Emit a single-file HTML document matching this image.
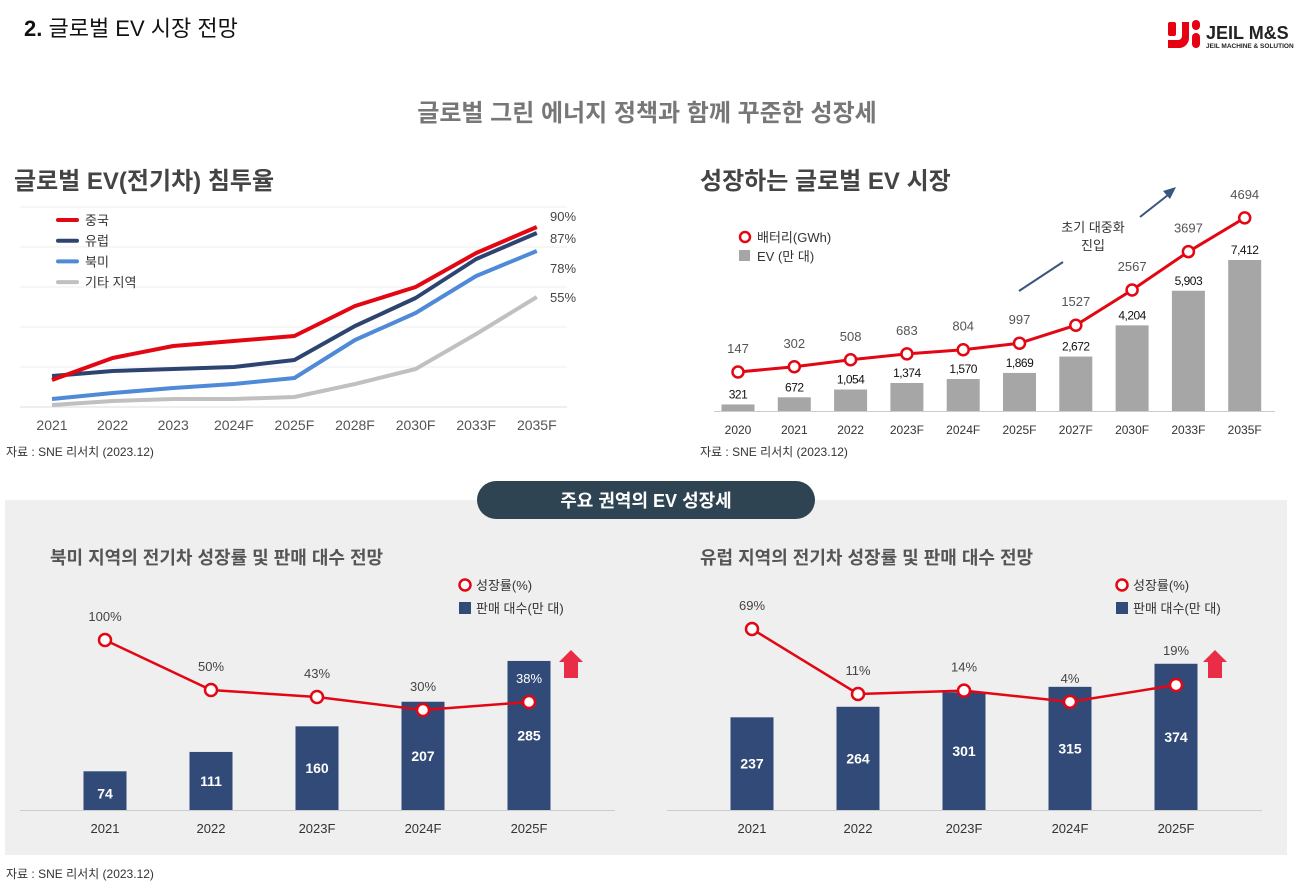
<!DOCTYPE html>
<html><head><meta charset="utf-8"><style>
html,body{margin:0;padding:0;background:#fff;}
svg{display:block;font-family:"Liberation Sans","Noto Sans CJK KR",sans-serif;}
</style></head><body>
<svg id="s" width="1313" height="882" viewBox="0 0 1313 882">
<text x="24" y="36" font-size="22" fill="#111"><tspan font-weight="bold">2.</tspan> 글로벌 EV 시장 전망</text>
<g>
<rect x="1168" y="22" width="8" height="14" rx="2" fill="#e60012"/><path d="M1168 40 h10 a4 4 0 0 0 4-4 v-14 h7 v16 a10 10 0 0 1-10 10 h-11z" fill="#e60012"/>
<rect x="1192" y="20" width="8" height="10" rx="4" fill="#e60012"/><rect x="1192" y="33" width="8" height="15" rx="4" fill="#e60012"/>
<text x="1206" y="39" font-size="18" font-weight="bold" fill="#222">JEIL M&amp;S</text>
<text x="1206" y="48" font-size="6.5" font-weight="bold" fill="#222">JEIL MACHINE &amp; SOLUTION</text>
</g>
<text x="647" y="121" font-size="24" font-weight="bold" fill="#777" text-anchor="middle">글로벌 그린 에너지 정책과 함께 꾸준한 성장세</text>
<text x="14" y="189" font-size="24" font-weight="bold" fill="#444">글로벌 EV(전기차) 침투율</text>
<text x="700" y="189" font-size="24" font-weight="bold" fill="#444">성장하는 글로벌 EV 시장</text>
<g id="c1"></g><g id="c2"></g>
<text x="6" y="456" font-size="12" fill="#333">자료 : SNE 리서치 (2023.12)</text>
<text x="700" y="456" font-size="12" fill="#333">자료 : SNE 리서치 (2023.12)</text>
<rect x="5" y="500" width="1282" height="355" fill="#efefef"/>
<rect x="477" y="481" width="338" height="38" rx="19" fill="#2e4453"/>
<text x="646" y="507" font-size="18" font-weight="bold" fill="#fff" text-anchor="middle">주요 권역의 EV 성장세</text>
<text x="50" y="564" font-size="18" font-weight="bold" fill="#555">북미 지역의 전기차 성장률 및 판매 대수 전망</text>
<text x="700" y="564" font-size="18" font-weight="bold" fill="#555">유럽 지역의 전기차 성장률 및 판매 대수 전망</text>
<g id="c3"></g><g id="c4"></g>
<text x="6" y="878" font-size="12" fill="#333">자료 : SNE 리서치 (2023.12)</text>
</svg>
<script>
const penCats=["2021","2022","2023","2024F","2025F","2028F","2030F","2033F","2035F"];
const penChina=[13.5,24.5,30.5,33,35.5,50.5,60,77,90];
const penEurope=[15.5,18,19,20,23.5,40.5,54.5,74,87];
const penNA=[4,7,9.5,11.5,14.5,33.5,47,65.5,78];
const penOther=[1,3,4,4,5,11.5,19,36.5,55];
const penEndLabels=["90%","87%","78%","55%"];
const mktCats=["2020","2021","2022","2023F","2024F","2025F","2027F","2030F","2033F","2035F"];
const mktBattery=[147,302,508,683,804,997,1527,2567,3697,4694];
const mktEV=[321,672,1054,1374,1570,1869,2672,4204,5903,7412];
const regCats=["2021","2022","2023F","2024F","2025F"];
const naSales=[74,111,160,207,285];
const naGrowth=[100,50,43,30,38];
const euSales=[237,264,301,315,374];
const euGrowth=[69,11,14,4,19];

const NS="http://www.w3.org/2000/svg";
function mk(p,t,a,txt){const e=document.createElementNS(NS,t);for(const k in a)e.setAttribute(k,a[k]);if(txt!==undefined)e.textContent=txt;p.appendChild(e);return e;}
function fmt(v){return v.toLocaleString("en-US");}

(function(){
const g=document.getElementById("c1");
const x=i=>52+i*60.6, y=v=>407-v*2;
[0,20,40,60,80,100].forEach(t=>{const l=mk(g,"line",{x1:20,x2:567,y1:y(t),y2:y(t),stroke:t?"#eeeeee":"#dddddd","stroke-width":1});

});
penCats.forEach((c,i)=>{const t=mk(g,"text",{x:x(i),y:430,"font-size":14,fill:"#555","text-anchor":"middle"},c);

});
const series=[[penOther,"#c0c0c0","기타 지역"],[penNA,"#4f8ad8","북미"],[penEurope,"#2e4470","유럽"],[penChina,"#e30613","중국"]];
series.forEach((s,si)=>{
const p=mk(g,"polyline",{points:s[0].map((v,i)=>x(i)+","+y(v)).join(" "),fill:"none",stroke:s[1],"stroke-width":4,"stroke-linejoin":"round"});


});
const legOrder=[series[3],series[2],series[1],series[0]];
legOrder.forEach((s,i)=>{const yy=220+i*20.7;
const l=mk(g,"line",{x1:58,x2:77,y1:yy,y2:yy,stroke:s[1],"stroke-width":4,"stroke-linecap":"round"});


const t=mk(g,"text",{x:85,y:yy+5,"font-size":13,fill:"#333"},s[2]);


const ey=[216,238,268,297][i];
const e=mk(g,"text",{x:550,y:ey+5,"font-size":13,fill:"#444"},penEndLabels[i]);


});
})();

(function(){
const g=document.getElementById("c2");
const x=i=>738+i*56.3, yb=v=>411-v*0.02037, yl=v=>377-v*0.0339;
mk(g,"line",{x1:714,x2:1275,y1:411.5,y2:411.5,stroke:"#ccc"});
mktCats.forEach((c,i)=>{
const b=mk(g,"rect",{x:x(i)-16.5,y:yb(mktEV[i]),width:33,height:411-yb(mktEV[i]),fill:"#a6a6a6"});


const bl=mk(g,"text",{x:x(i),y:yb(mktEV[i])-6,"font-size":12,fill:"#111","text-anchor":"middle","letter-spacing":"-0.5"},fmt(mktEV[i]));


const t=mk(g,"text",{x:x(i),y:434,"font-size":12,fill:"#333","text-anchor":"middle"},c);


});
const p=mk(g,"polyline",{points:mktBattery.map((v,i)=>x(i)+","+yl(v)).join(" "),fill:"none",stroke:"#e30613","stroke-width":3});


mktBattery.forEach((v,i)=>{
const c=mk(g,"circle",{cx:x(i),cy:yl(v),r:5.5,fill:"#fff",stroke:"#e30613","stroke-width":2.5});


const t=mk(g,"text",{x:x(i),y:yl(v)-19,"font-size":13,fill:"#555","text-anchor":"middle"},String(v));


});
const lc=mk(g,"circle",{cx:745,cy:237,r:5,fill:"#fff",stroke:"#e30613","stroke-width":2.5});


const lt=mk(g,"text",{x:757,y:242,"font-size":13,fill:"#333"},"배터리(GWh)");


const ls=mk(g,"rect",{x:739,y:250,width:11,height:11,fill:"#a6a6a6"});


const lt2=mk(g,"text",{x:757,y:261,"font-size":13,fill:"#333"},"EV (만 대)");


const a1=mk(g,"line",{x1:1019,y1:291,x2:1063,y2:262,stroke:"#3a5580","stroke-width":2});


mk(g,"line",{x1:1140,y1:217,x2:1168,y2:195,stroke:"#3a5580","stroke-width":2});
mk(g,"polygon",{points:"1176,187 1163,191 1170,199",fill:"#3a5580"});
const at=mk(g,"text",{x:1093,y:232,"font-size":13,fill:"#333","text-anchor":"middle"},"초기 대중화");


mk(g,"text",{x:1093,y:250,"font-size":13,fill:"#333","text-anchor":"middle"},"진입");
})();

function regional(id,x0,sales,growth,ys,yg,lx,arrowX){
const g=document.getElementById(id);
const x=i=>x0+i*106, yb=v=>810-v*ys;
mk(g,"line",{x1:x0-85,x2:x0+510,y1:810.5,y2:810.5,stroke:"#ccc"});
regCats.forEach((c,i)=>{
const b=mk(g,"rect",{x:x(i)-21.5,y:yb(sales[i]),width:43,height:810-yb(sales[i]),fill:"#324a78"});


const bl=mk(g,"text",{x:x(i),y:(yb(sales[i])+810)/2+5+(i==0&&id=="c3"?3:0),"font-size":14,"font-weight":"bold",fill:"#fff","text-anchor":"middle"},String(sales[i]));


const t=mk(g,"text",{x:x(i),y:833,"font-size":13,fill:"#333","text-anchor":"middle"},c);


});
const p=mk(g,"polyline",{points:growth.map((v,i)=>x(i)+","+yg(v)).join(" "),fill:"none",stroke:"#e30613","stroke-width":2.5});


growth.forEach((v,i)=>{
const c=mk(g,"circle",{cx:x(i),cy:yg(v),r:6,fill:"#fff",stroke:"#e30613","stroke-width":2.5});


const top=yb(sales[i]);
const inBar=yg(v)-24>top;
let ly=yg(v)-19;
if(!inBar && ly>top-2 && ly-12<top) ly=top-9;
const t=mk(g,"text",{x:x(i),y:ly,"font-size":13,fill:inBar?"#fff":"#444","text-anchor":"middle"},v+"%");


});
const lc=mk(g,"circle",{cx:lx,cy:585,r:5.5,fill:"#fff",stroke:"#e30613","stroke-width":2.5});


const lt=mk(g,"text",{x:lx+11,y:590,"font-size":13,fill:"#333"},"성장률(%)");


const ls=mk(g,"rect",{x:lx-6,y:602,width:12,height:12,fill:"#324a78"});


const lt2=mk(g,"text",{x:lx+11,y:613,"font-size":13,fill:"#333"},"판매 대수(만 대)");


const ar=mk(g,"polygon",{points:`${arrowX},650 ${arrowX+12},662 ${arrowX+7},662 ${arrowX+7},678 ${arrowX-7},678 ${arrowX-7},662 ${arrowX-12},662`,fill:"#ea2d47"});


}
regional("c3",105,naSales,naGrowth,0.523,v=>740-v,465,571);
regional("c4",752,euSales,euGrowth,0.391,v=>706.3-v*1.12,1122,1215);
</script>
</body></html>
